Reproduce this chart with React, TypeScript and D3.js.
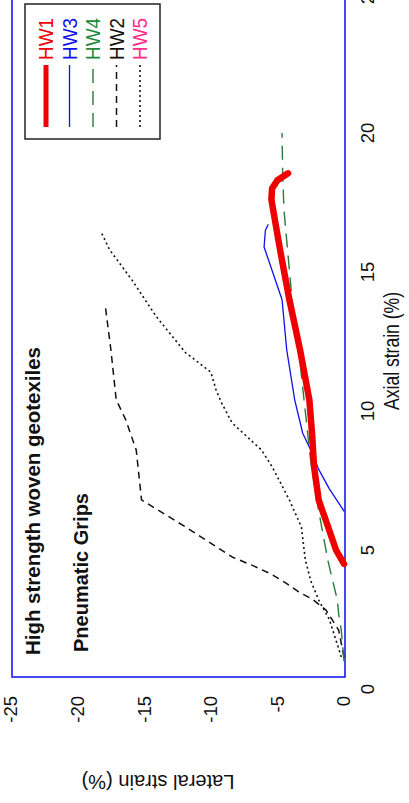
import { useRef, useEffect } from "react";
import * as d3 from "d3";

const W = 409;
const H = 803;
const FONT = "'Liberation Sans', Arial, sans-serif";

// tick labels
const axialTicks = [0, 5, 10, 15, 20, 25];
const lateralTicks = [-25, -20, -15, -10, -5, 0];

// series: axial strain (%) vs lateral strain (%)
const hw1Axial = [4.5, 5.0, 5.7, 6.8, 8.0, 9.2, 10.4, 12.2, 14.0, 15.8, 17.6, 18.0, 18.3, 18.55];
const hw1Lateral = [0, -0.6, -1.1, -1.9, -2.25, -2.4, -2.6, -3.3, -4.1, -4.8, -5.45, -5.4, -5.0, -4.2];

const hw3Axial = [6.4, 7.2, 7.9, 8.5, 9.2, 10.0, 10.4, 12.2, 14.0, 15.9, 16.5, 16.7];
const hw3Lateral = [0, -1.1, -1.9, -2.4, -3.1, -3.5, -3.7, -4.3, -4.65, -6.0, -5.9, -5.7];

const hw4Axial = [1.0, 2.1, 2.7, 3.2, 4.6, 6.4, 8.2, 10.4, 12.2, 14.0, 15.6, 17.2, 18.4, 20.0];
const hw4Lateral = [0, -0.2, -0.4, -0.5, -1.2, -1.9, -2.5, -3.0, -3.4, -3.9, -4.2, -4.5, -4.6, -4.65];

const hw2Axial = [1.15, 2.12, 2.84, 3.24, 3.49, 3.81, 4.14, 4.42, 4.75, 5.83, 6.8, 8.6, 9.7, 10.4, 12.2, 13.7];
const hw2Lateral = [0, -0.4, -1.35, -2.4, -3.4, -4.35, -5.5, -6.75, -8.4, -11.9, -15.2, -15.6, -16.4, -17.1, -17.5, -17.9];

const hw5Axial = [1.15, 1.9, 2.5, 3.2, 3.9, 4.64, 5.83, 6.8, 8.0, 8.6, 9.57, 10.3, 10.75, 11.4, 12.1, 13.4, 14.7, 15.8, 16.4];
const hw5Lateral = [-0.2, -0.7, -1.1, -1.9, -2.5, -2.9, -3.2, -4.1, -5.4, -6.2, -8.4, -9.2, -9.6, -10.0, -11.9, -14.1, -15.9, -17.6, -18.2];

// legend order as in the picture
const legendNames = ["HW1", "HW3", "HW4", "HW2", "HW5"];

type Series = {
  name: string;
  axial: number[];
  lateral: number[];
  stroke: string;
  label: string;
  width: number;
  dash: string | null;
};

const series: Series[] = [
  { name: "HW2", axial: hw2Axial, lateral: hw2Lateral, stroke: "#111", label: "#111", width: 1.5, dash: "7,5" },
  { name: "HW5", axial: hw5Axial, lateral: hw5Lateral, stroke: "#111", label: "#ff2a8a", width: 1.6, dash: "2,3" },
  { name: "HW4", axial: hw4Axial, lateral: hw4Lateral, stroke: "#2b7a3b", label: "#1f8a3c", width: 1.4, dash: "14,8" },
  { name: "HW3", axial: hw3Axial, lateral: hw3Lateral, stroke: "#1010ee", label: "#1010ee", width: 1.3, dash: null },
  { name: "HW1", axial: hw1Axial, lateral: hw1Lateral, stroke: "#ee0000", label: "#ee0000", width: 6.5, dash: null },
];

function vtext(
  g: d3.Selection<SVGGElement, unknown, null, undefined>,
  x: number,
  y: number,
  text: string,
  opts: { size: number; anchor?: string; weight?: string; fill?: string; len?: number; rot?: number }
) {
  const t = g
    .append("text")
    .attr("transform", `translate(${x},${y}) rotate(${opts.rot ?? -90})`)
    .attr("text-anchor", opts.anchor ?? "middle")
    .attr("dy", "0.35em")
    .attr("font-family", FONT)
    .attr("font-size", opts.size)
    .attr("font-weight", opts.weight ?? "normal")
    .attr("fill", opts.fill ?? "#111")
    .text(text);
  if (opts.len) t.attr("textLength", opts.len).attr("lengthAdjust", "spacingAndGlyphs");
  return t;
}

function draw(el: SVGSVGElement) {
  const svg = d3.select(el);
  svg.selectAll("*").remove();
  const g = svg.append("g");

  // the chart is printed turned a quarter turn: axial runs up, lateral runs across
  const xL = d3.scaleLinear().domain([-25, 0]).range([11, 344]);
  const yA = d3.scaleLinear().domain([0, 25]).range([689, -6]);

  // plot box
  g.append("rect")
    .attr("x", 12)
    .attr("y", -10)
    .attr("width", 333)
    .attr("height", 687)
    .attr("fill", "none")
    .attr("stroke", "#1a1aee")
    .attr("stroke-width", 1.6);

  // tick labels
  axialTicks.forEach((v) => vtext(g, 368, yA(v), String(v), { size: 18.5 }));
  lateralTicks.forEach((v) => vtext(g, xL(v), 696, String(v), { size: 18.5, anchor: "end" }));

  // axis titles
  vtext(g, 391, 410, "Axial strain (%)", { size: 22, anchor: "start", len: 118 });
  vtext(g, 158, 782, "Lateral strain (%)", { size: 21, rot: 180, len: 153 });

  // annotations
  vtext(g, 33, 655, "High strength woven geotexiles", { size: 20, anchor: "start", weight: "bold", len: 308 });
  vtext(g, 81, 652, "Pneumatic Grips", { size: 20, anchor: "start", weight: "bold", len: 159 });

  // lines
  const line = d3
    .line<[number, number]>()
    .x((d) => xL(d[1]))
    .y((d) => yA(d[0]));

  series.forEach((s) => {
    const pts = s.axial.map((a, i) => [a, s.lateral[i]] as [number, number]);
    g.append("path")
      .datum(pts)
      .attr("d", line)
      .attr("fill", "none")
      .attr("stroke", s.stroke)
      .attr("stroke-width", s.width)
      .attr("stroke-linecap", s.dash ? "butt" : "round")
      .attr("stroke-linejoin", "round")
      .attr("stroke-dasharray", s.dash);
  });

  // legend
  const leg = g.append("g");
  leg.append("rect")
    .attr("x", 25)
    .attr("y", 4)
    .attr("width", 135)
    .attr("height", 135)
    .attr("fill", "#fff")
    .attr("stroke", "#222")
    .attr("stroke-width", 1.5);

  legendNames.forEach((name, i) => {
    const s = series.find((d) => d.name === name)!;
    const cx = 46 + i * 23.5;
    leg.append("line")
      .attr("x1", cx)
      .attr("x2", cx)
      .attr("y1", 127)
      .attr("y2", 65)
      .attr("stroke", s.stroke)
      .attr("stroke-width", name === "HW1" ? 5 : s.width)
      .attr("stroke-dasharray", s.dash);
    vtext(leg, cx, 60, name, { size: 20, anchor: "start", fill: s.label, len: 42 });
  });
}

export default function App() {
  const ref = useRef<SVGSVGElement>(null);
  useEffect(() => {
    if (ref.current) draw(ref.current);
  }, []);
  return (
    <svg
      ref={ref}
      width={W}
      height={H}
      style={{ position: "absolute", left: 0, top: 0, background: "#fff", display: "block" }}
    />
  );
}
